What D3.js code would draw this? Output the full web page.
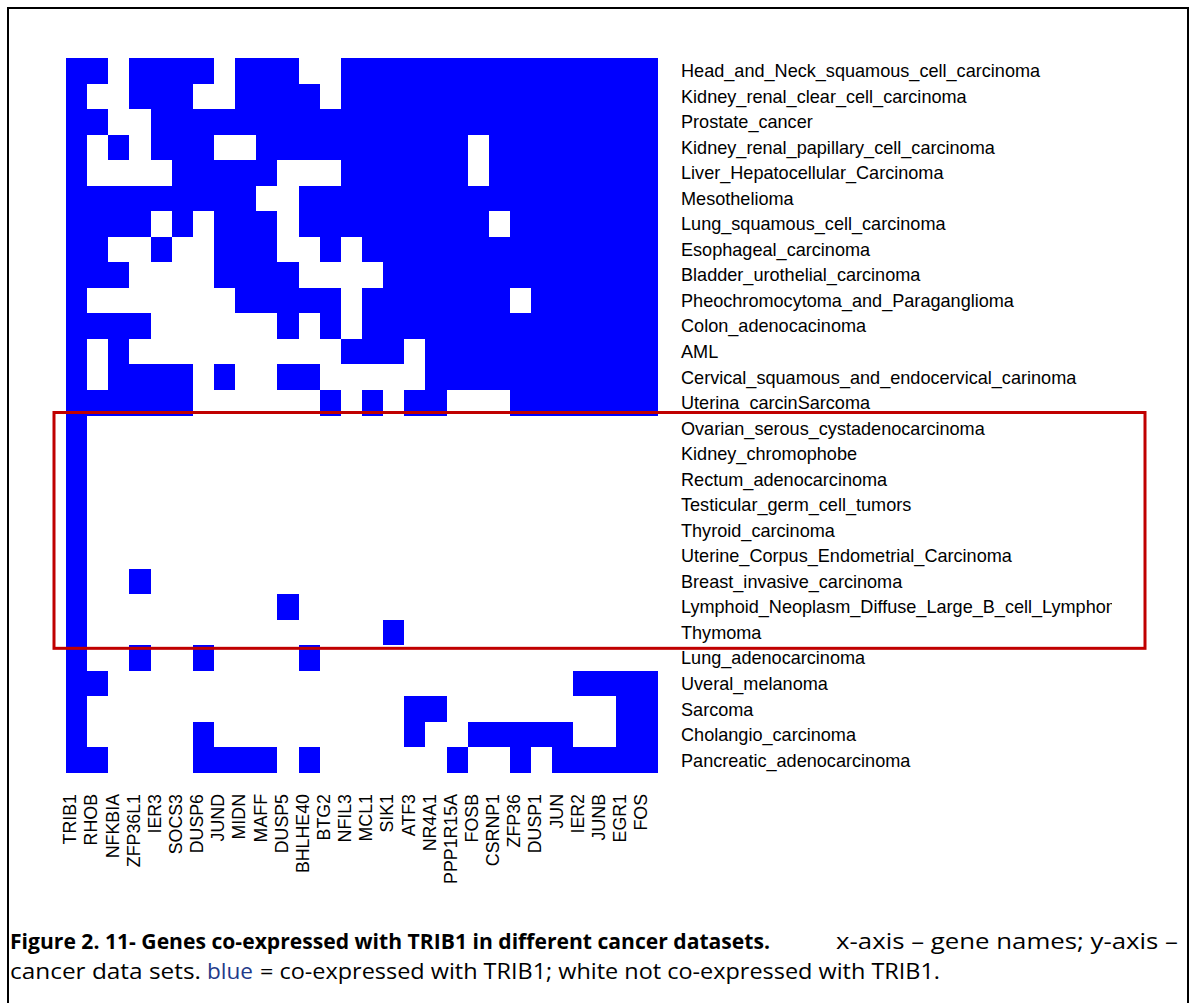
<!DOCTYPE html>
<html>
<head>
<meta charset="utf-8">
<script src="https://cdn.jsdelivr.net/npm/d3@7"></script>
<style>
  html, body { margin: 0; padding: 0; background: #fff; }
  svg { display: block; }
</style>
</head>
<body>
<svg id="chart" width="1195" height="1003"></svg>
<script>
// Genes (x-axis)
const genes = ["TRIB1","RHOB","NFKBIA","ZFP36L1","IER3","SOCS3","DUSP6","JUND","MIDN","MAFF",
  "DUSP5","BHLHE40","BTG2","NFIL3","MCL1","SIK1","ATF3","NR4A1","PPP1R15A","FOSB",
  "CSRNP1","ZFP36","DUSP1","JUN","IER2","JUNB","EGR1","FOS"];

// Cancer data sets (y-axis)
const cancers = ["Head_and_Neck_squamous_cell_carcinoma","Kidney_renal_clear_cell_carcinoma","Prostate_cancer",
  "Kidney_renal_papillary_cell_carcinoma","Liver_Hepatocellular_Carcinoma","Mesothelioma",
  "Lung_squamous_cell_carcinoma","Esophageal_carcinoma","Bladder_urothelial_carcinoma",
  "Pheochromocytoma_and_Paraganglioma","Colon_adenocacinoma","AML",
  "Cervical_squamous_and_endocervical_carinoma","Uterina_carcinSarcoma",
  "Ovarian_serous_cystadenocarcinoma","Kidney_chromophobe","Rectum_adenocarcinoma",
  "Testicular_germ_cell_tumors","Thyroid_carcinoma","Uterine_Corpus_Endometrial_Carcinoma",
  "Breast_invasive_carcinoma","Lymphoid_Neoplasm_Diffuse_Large_B_cell_Lymphoma","Thymoma",
  "Lung_adenocarcinoma","Uveral_melanoma","Sarcoma","Cholangio_carcinoma","Pancreatic_adenocarcinoma"];

// Co-expression (1 = co-expressed with TRIB1), one string per cancer, one digit per gene
const coexpr = [
  "1101111011100111111111111111",
  "1001110011110111111111111111",
  "1100111111111111111111111111",
  "1010111001111111111011111111",
  "1000011111000111111011111111",
  "1111111110011111111111111111",
  "1111010111011111111101111111",
  "1100100111001011111111111111",
  "1110000111100001111111111111",
  "1000000011111011111110111111",
  "1111000000101011111111111111",
  "1010000000000111011111111111",
  "1011110100110000011111111111",
  "1111110000001010110001111111",
  "1000000000000000000000000000",
  "1000000000000000000000000000",
  "1000000000000000000000000000",
  "1000000000000000000000000000",
  "1000000000000000000000000000",
  "1000000000000000000000000000",
  "1001000000000000000000000000",
  "1000000000100000000000000000",
  "1000000000000001000000000000",
  "1001001000010000000000000000",
  "1100000000000000000000001111",
  "1000000000000000110000000011",
  "1000001000000000100111110011",
  "1100001111010000001001011111"
];

const highlighted = ["Ovarian_serous_cystadenocarcinoma","Thymoma"];

const captionBold = "Figure 2. 11- Genes co-expressed with TRIB1 in different cancer datasets.";
const captionRest1 = "x-axis \u2013 gene names; y-axis \u2013";
const captionLine2a = "cancer data sets.";
const captionBlue = "blue";
const captionLine2b = "= co-expressed with TRIB1; white not co-expressed with TRIB1.";

const svg = d3.select("#chart");

// Outer frame
svg.append("path")
  .attr("d", "M8,1003 L8,8 L1188,8 L1188,1003")
  .attr("fill", "none").attr("stroke", "#000").attr("stroke-width", 2);

const x = d3.scaleBand().domain(genes).range([66, 658]).padding(0);
const y = d3.scaleBand().domain(cancers).range([58, 773]).padding(0);

const cells = [];
cancers.forEach((c, i) => {
  genes.forEach((g, j) => {
    cells.push({cancer: c, gene: g, v: +coexpr[i][j]});
  });
});

svg.append("g").attr("shape-rendering", "crispEdges")
  .selectAll("rect").data(cells.filter(d => d.v === 1)).join("rect")
  .attr("x", d => Math.round(x(d.gene)))
  .attr("y", d => Math.round(y(d.cancer)))
  .attr("width", d => Math.round(x(d.gene) + x.bandwidth()) - Math.round(x(d.gene)))
  .attr("height", d => Math.round(y(d.cancer) + y.bandwidth()) - Math.round(y(d.cancer)))
  .attr("fill", "#0000FF");

// Row labels (right)
const clip = svg.append("clipPath").attr("id", "rowclip");
clip.append("rect").attr("x", -11).attr("y", 40).attr("width", 442).attr("height", 760);

const rowAxis = d3.axisRight(y).tickSize(0).tickPadding(0);
const gRow = svg.append("g")
  .attr("transform", "translate(681,0)")
  .attr("clip-path", "url(#rowclip)")
  .call(rowAxis);
gRow.select(".domain").remove();
gRow.selectAll("text")
  .attr("x", 0).attr("dy", "0.35em")
  .attr("fill", "#000")
  .style("font-family", "'Liberation Sans', Arial, sans-serif")
  .style("font-size", "18.1px");

// Column labels (bottom, rotated)
const colAxis = d3.axisBottom(x).tickSize(0).tickPadding(0);
const gCol = svg.append("g").attr("transform", "translate(-6.5,794)").call(colAxis);
gCol.select(".domain").remove();
gCol.selectAll("text")
  .attr("transform", "rotate(-90)")
  .attr("x", 0).attr("y", 0).attr("dy", "0.35em")
  .attr("text-anchor", "end")
  .attr("fill", "#000")
  .style("font-family", "'Liberation Sans', Arial, sans-serif")
  .style("font-size", "17.8px");

// Highlight box
svg.append("rect")
  .attr("x", 54)
  .attr("y", y(highlighted[0]) - 3)
  .attr("width", 1145 - 54)
  .attr("height", y(highlighted[1]) + y.bandwidth() + 3 - (y(highlighted[0]) - 3))
  .attr("fill", "none")
  .attr("stroke", "#C00000")
  .attr("stroke-width", 3);

// Caption
const capFont = "'Open Sans', 'Noto Sans', sans-serif";
function cap(txt, x0, x1, yb, bold, color) {
  svg.append("text")
    .attr("x", x0).attr("y", yb)
    .attr("textLength", x1 - x0)
    .attr("lengthAdjust", "spacingAndGlyphs")
    .attr("fill", color || "#000")
    .style("font-family", capFont)
    .style("font-size", "21px")
    .style("font-weight", bold ? "700" : "400")
    .text(txt);
}
cap(captionBold, 10, 770, 949, true);
cap(captionRest1, 836, 1178, 949, false);
cap(captionLine2a, 10, 201, 979, false);
cap(captionBlue, 207, 253, 979, false, "#1F3A8A");
cap(captionLine2b, 260, 940, 979, false);
</script>
</body>
</html>
